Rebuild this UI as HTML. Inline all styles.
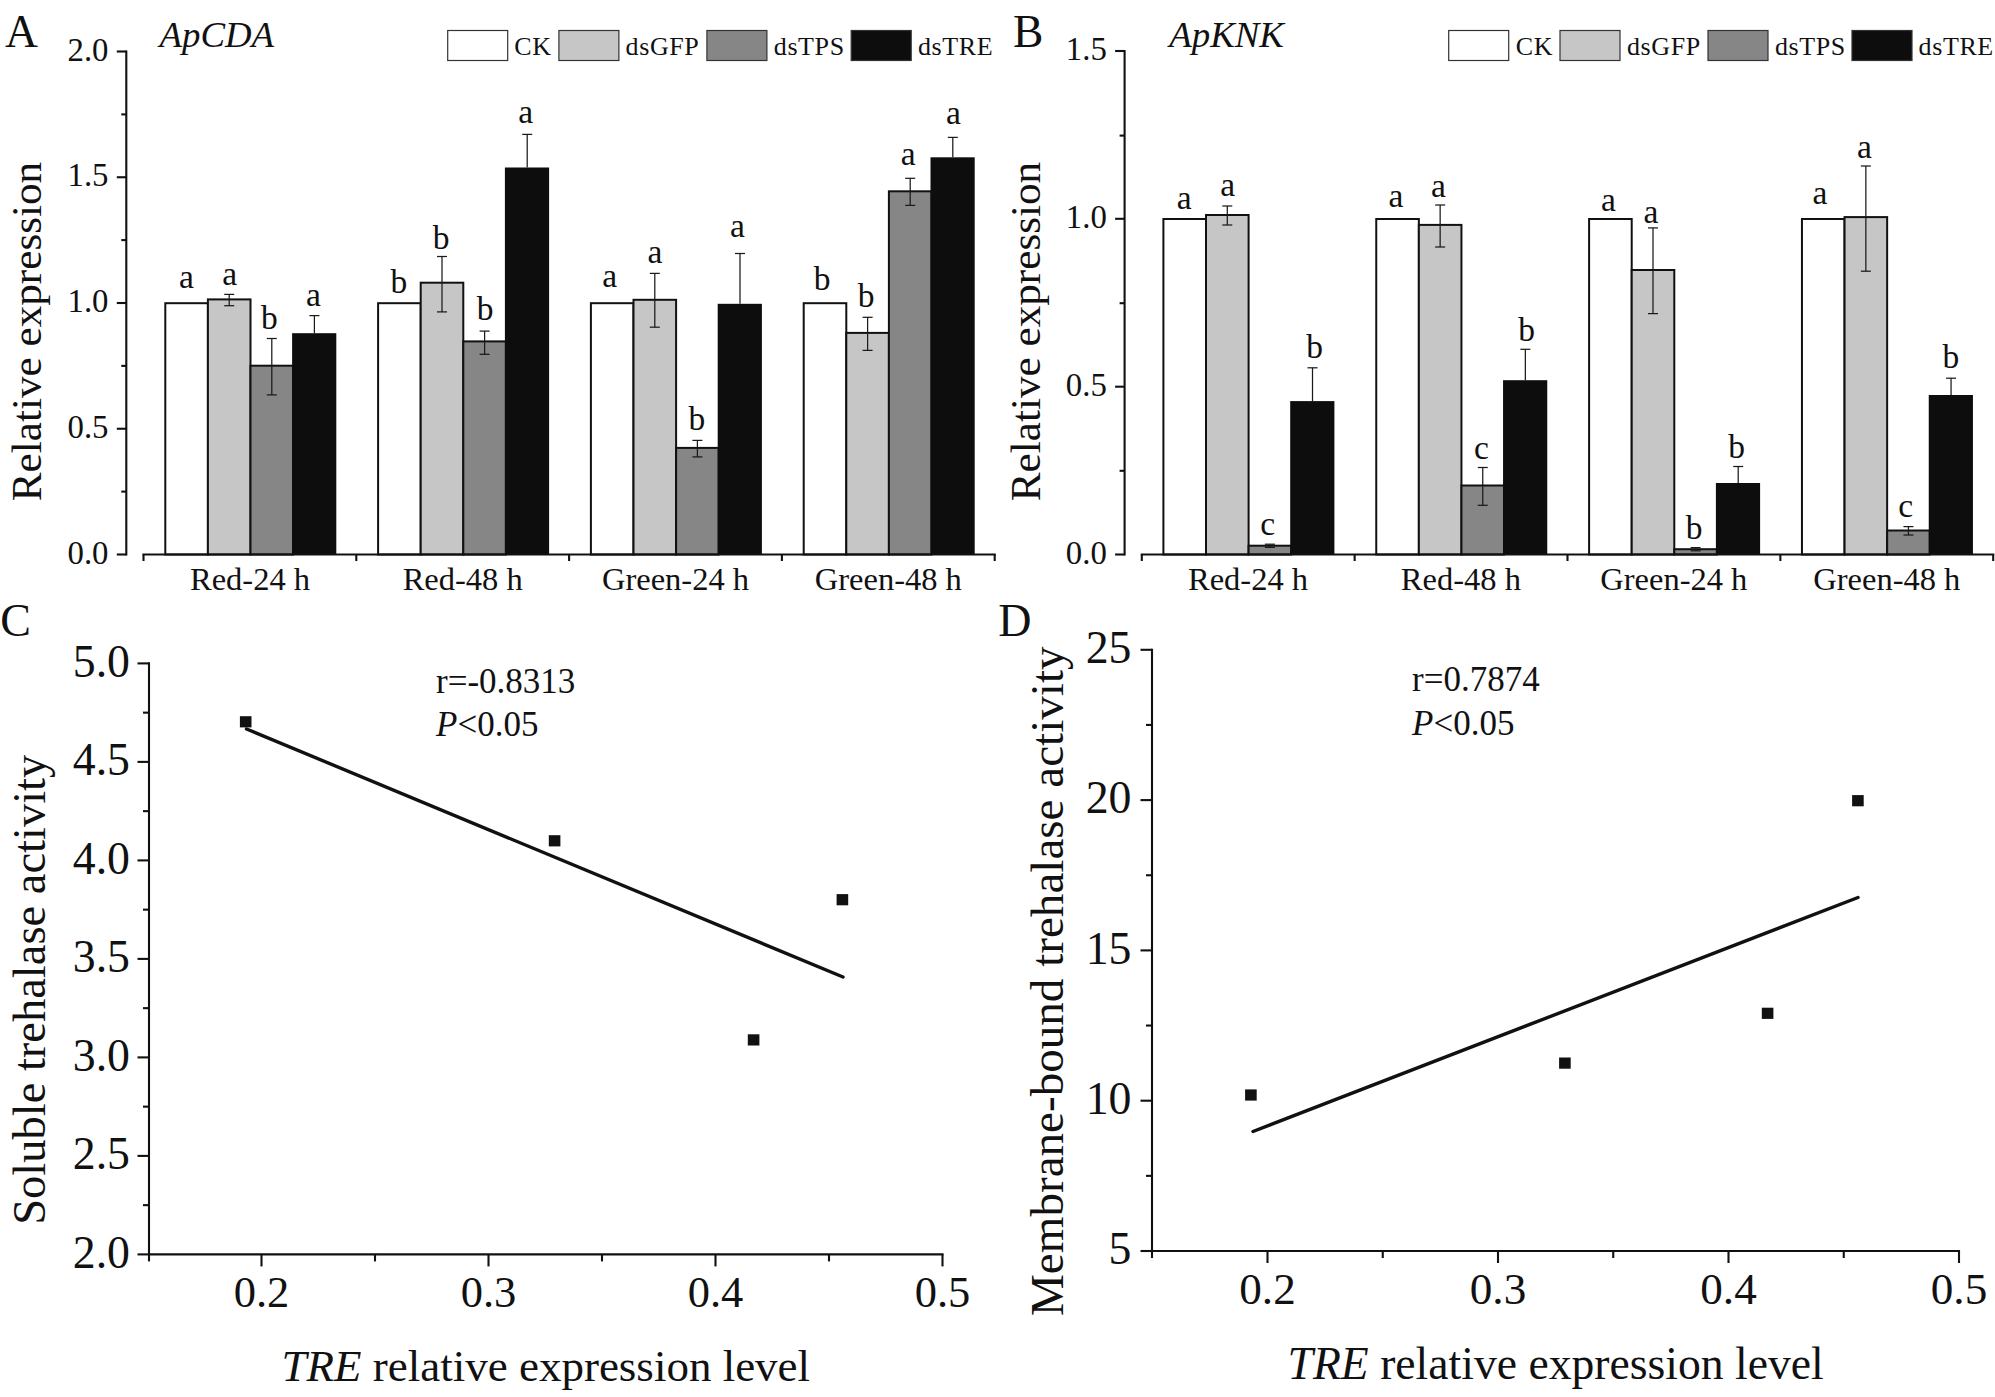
<!DOCTYPE html>
<html lang="en">
<head>
<meta charset="utf-8">
<title>Figure</title>
<style>
html,body{margin:0;padding:0;background:#fff;}
body{width:1995px;height:1397px;overflow:hidden;}
svg{display:block;}
svg text{font-family:"Liberation Serif", "Times New Roman", serif;fill:#111;}
</style>
</head>
<body>
<svg width="1995" height="1397" viewBox="0 0 1995 1397">
<rect x="0" y="0" width="1995" height="1397" fill="#ffffff"/>
<line x1="126.30" y1="50.45" x2="126.30" y2="555.55" stroke="#111" stroke-width="2.1" stroke-linecap="butt"/>
<line x1="116.80" y1="51.50" x2="126.30" y2="51.50" stroke="#111" stroke-width="2.1" stroke-linecap="butt"/>
<line x1="116.80" y1="177.25" x2="126.30" y2="177.25" stroke="#111" stroke-width="2.1" stroke-linecap="butt"/>
<line x1="116.80" y1="303.00" x2="126.30" y2="303.00" stroke="#111" stroke-width="2.1" stroke-linecap="butt"/>
<line x1="116.80" y1="428.75" x2="126.30" y2="428.75" stroke="#111" stroke-width="2.1" stroke-linecap="butt"/>
<line x1="116.80" y1="554.50" x2="126.30" y2="554.50" stroke="#111" stroke-width="2.1" stroke-linecap="butt"/>
<line x1="121.30" y1="114.40" x2="126.30" y2="114.40" stroke="#111" stroke-width="2.1" stroke-linecap="butt"/>
<line x1="121.30" y1="240.10" x2="126.30" y2="240.10" stroke="#111" stroke-width="2.1" stroke-linecap="butt"/>
<line x1="121.30" y1="365.90" x2="126.30" y2="365.90" stroke="#111" stroke-width="2.1" stroke-linecap="butt"/>
<line x1="121.30" y1="491.60" x2="126.30" y2="491.60" stroke="#111" stroke-width="2.1" stroke-linecap="butt"/>
<text x="108.5" y="60.7" text-anchor="end" style="font-size:32.8px;">2.0</text>
<text x="108.5" y="186.45" text-anchor="end" style="font-size:32.8px;">1.5</text>
<text x="108.5" y="312.2" text-anchor="end" style="font-size:32.8px;">1.0</text>
<text x="108.5" y="437.95" text-anchor="end" style="font-size:32.8px;">0.5</text>
<text x="108.5" y="563.7" text-anchor="end" style="font-size:32.8px;">0.0</text>
<rect x="165.30" y="303.20" width="42.6" height="251.30" fill="#ffffff" stroke="#111" stroke-width="2"/>
<rect x="207.90" y="299.40" width="42.6" height="255.10" fill="#c6c6c6" stroke="#111" stroke-width="2"/>
<rect x="250.50" y="365.70" width="42.6" height="188.80" fill="#868686" stroke="#111" stroke-width="2"/>
<rect x="292.10" y="333.20" width="44.20" height="221.30" fill="#0d0d0d"/>
<line x1="229.20" y1="294.40" x2="229.20" y2="305.70" stroke="#1a1a1a" stroke-width="1.25" stroke-linecap="butt"/>
<line x1="224.20" y1="294.40" x2="234.20" y2="294.40" stroke="#1a1a1a" stroke-width="1.25" stroke-linecap="butt"/>
<line x1="224.20" y1="305.70" x2="234.20" y2="305.70" stroke="#1a1a1a" stroke-width="1.25" stroke-linecap="butt"/>
<line x1="271.80" y1="338.50" x2="271.80" y2="394.90" stroke="#1a1a1a" stroke-width="1.25" stroke-linecap="butt"/>
<line x1="266.80" y1="338.50" x2="276.80" y2="338.50" stroke="#1a1a1a" stroke-width="1.25" stroke-linecap="butt"/>
<line x1="266.80" y1="394.90" x2="276.80" y2="394.90" stroke="#1a1a1a" stroke-width="1.25" stroke-linecap="butt"/>
<line x1="314.40" y1="315.60" x2="314.40" y2="333.20" stroke="#1a1a1a" stroke-width="1.25" stroke-linecap="butt"/>
<line x1="309.40" y1="315.60" x2="319.40" y2="315.60" stroke="#1a1a1a" stroke-width="1.25" stroke-linecap="butt"/>
<text x="186.5" y="287.8" text-anchor="middle" style="font-size:33.5px;">a</text>
<text x="229.7" y="285.4" text-anchor="middle" style="font-size:33.5px;">a</text>
<text x="269.4" y="329.4" text-anchor="middle" style="font-size:33.5px;">b</text>
<text x="313.5" y="306.09999999999997" text-anchor="middle" style="font-size:33.5px;">a</text>
<rect x="378.10" y="303.20" width="42.6" height="251.30" fill="#ffffff" stroke="#111" stroke-width="2"/>
<rect x="420.70" y="282.70" width="42.6" height="271.80" fill="#c6c6c6" stroke="#111" stroke-width="2"/>
<rect x="463.30" y="341.40" width="42.6" height="213.10" fill="#868686" stroke="#111" stroke-width="2"/>
<rect x="504.90" y="167.50" width="44.20" height="387.00" fill="#0d0d0d"/>
<line x1="442.00" y1="256.50" x2="442.00" y2="311.90" stroke="#1a1a1a" stroke-width="1.25" stroke-linecap="butt"/>
<line x1="437.00" y1="256.50" x2="447.00" y2="256.50" stroke="#1a1a1a" stroke-width="1.25" stroke-linecap="butt"/>
<line x1="437.00" y1="311.90" x2="447.00" y2="311.90" stroke="#1a1a1a" stroke-width="1.25" stroke-linecap="butt"/>
<line x1="484.60" y1="331.10" x2="484.60" y2="354.30" stroke="#1a1a1a" stroke-width="1.25" stroke-linecap="butt"/>
<line x1="479.60" y1="331.10" x2="489.60" y2="331.10" stroke="#1a1a1a" stroke-width="1.25" stroke-linecap="butt"/>
<line x1="479.60" y1="354.30" x2="489.60" y2="354.30" stroke="#1a1a1a" stroke-width="1.25" stroke-linecap="butt"/>
<line x1="527.20" y1="134.40" x2="527.20" y2="167.50" stroke="#1a1a1a" stroke-width="1.25" stroke-linecap="butt"/>
<line x1="522.20" y1="134.40" x2="532.20" y2="134.40" stroke="#1a1a1a" stroke-width="1.25" stroke-linecap="butt"/>
<text x="398.9" y="292.59999999999997" text-anchor="middle" style="font-size:33.5px;">b</text>
<text x="441.2" y="248.79999999999998" text-anchor="middle" style="font-size:33.5px;">b</text>
<text x="485.1" y="319.5" text-anchor="middle" style="font-size:33.5px;">b</text>
<text x="525.7" y="122.5" text-anchor="middle" style="font-size:33.5px;">a</text>
<rect x="590.90" y="303.20" width="42.6" height="251.30" fill="#ffffff" stroke="#111" stroke-width="2"/>
<rect x="633.50" y="299.80" width="42.6" height="254.70" fill="#c6c6c6" stroke="#111" stroke-width="2"/>
<rect x="676.10" y="447.90" width="42.6" height="106.60" fill="#868686" stroke="#111" stroke-width="2"/>
<rect x="717.70" y="303.80" width="44.20" height="250.70" fill="#0d0d0d"/>
<line x1="654.80" y1="273.40" x2="654.80" y2="327.20" stroke="#1a1a1a" stroke-width="1.25" stroke-linecap="butt"/>
<line x1="649.80" y1="273.40" x2="659.80" y2="273.40" stroke="#1a1a1a" stroke-width="1.25" stroke-linecap="butt"/>
<line x1="649.80" y1="327.20" x2="659.80" y2="327.20" stroke="#1a1a1a" stroke-width="1.25" stroke-linecap="butt"/>
<line x1="697.40" y1="440.40" x2="697.40" y2="456.90" stroke="#1a1a1a" stroke-width="1.25" stroke-linecap="butt"/>
<line x1="692.40" y1="440.40" x2="702.40" y2="440.40" stroke="#1a1a1a" stroke-width="1.25" stroke-linecap="butt"/>
<line x1="692.40" y1="456.90" x2="702.40" y2="456.90" stroke="#1a1a1a" stroke-width="1.25" stroke-linecap="butt"/>
<line x1="740.00" y1="253.50" x2="740.00" y2="303.80" stroke="#1a1a1a" stroke-width="1.25" stroke-linecap="butt"/>
<line x1="735.00" y1="253.50" x2="745.00" y2="253.50" stroke="#1a1a1a" stroke-width="1.25" stroke-linecap="butt"/>
<text x="609.6" y="287.3" text-anchor="middle" style="font-size:33.5px;">a</text>
<text x="655" y="263.0" text-anchor="middle" style="font-size:33.5px;">a</text>
<text x="696.8" y="429.7" text-anchor="middle" style="font-size:33.5px;">b</text>
<text x="737.4" y="237.39999999999998" text-anchor="middle" style="font-size:33.5px;">a</text>
<rect x="803.70" y="303.20" width="42.6" height="251.30" fill="#ffffff" stroke="#111" stroke-width="2"/>
<rect x="846.30" y="332.90" width="42.6" height="221.60" fill="#c6c6c6" stroke="#111" stroke-width="2"/>
<rect x="888.90" y="191.30" width="42.6" height="363.20" fill="#868686" stroke="#111" stroke-width="2"/>
<rect x="930.50" y="157.30" width="44.20" height="397.20" fill="#0d0d0d"/>
<line x1="867.60" y1="317.30" x2="867.60" y2="350.40" stroke="#1a1a1a" stroke-width="1.25" stroke-linecap="butt"/>
<line x1="862.60" y1="317.30" x2="872.60" y2="317.30" stroke="#1a1a1a" stroke-width="1.25" stroke-linecap="butt"/>
<line x1="862.60" y1="350.40" x2="872.60" y2="350.40" stroke="#1a1a1a" stroke-width="1.25" stroke-linecap="butt"/>
<line x1="910.20" y1="178.30" x2="910.20" y2="205.40" stroke="#1a1a1a" stroke-width="1.25" stroke-linecap="butt"/>
<line x1="905.20" y1="178.30" x2="915.20" y2="178.30" stroke="#1a1a1a" stroke-width="1.25" stroke-linecap="butt"/>
<line x1="905.20" y1="205.40" x2="915.20" y2="205.40" stroke="#1a1a1a" stroke-width="1.25" stroke-linecap="butt"/>
<line x1="952.80" y1="137.40" x2="952.80" y2="157.30" stroke="#1a1a1a" stroke-width="1.25" stroke-linecap="butt"/>
<line x1="947.80" y1="137.40" x2="957.80" y2="137.40" stroke="#1a1a1a" stroke-width="1.25" stroke-linecap="butt"/>
<text x="822" y="290.0" text-anchor="middle" style="font-size:33.5px;">b</text>
<text x="866.2" y="306.9" text-anchor="middle" style="font-size:33.5px;">b</text>
<text x="908.3" y="164.6" text-anchor="middle" style="font-size:33.5px;">a</text>
<text x="953.4" y="124.0" text-anchor="middle" style="font-size:33.5px;">a</text>
<line x1="142.45" y1="554.50" x2="995.75" y2="554.50" stroke="#111" stroke-width="2.1" stroke-linecap="butt"/>
<line x1="143.50" y1="554.50" x2="143.50" y2="561.00" stroke="#111" stroke-width="2.1" stroke-linecap="butt"/>
<line x1="356.30" y1="554.50" x2="356.30" y2="561.00" stroke="#111" stroke-width="2.1" stroke-linecap="butt"/>
<line x1="569.10" y1="554.50" x2="569.10" y2="561.00" stroke="#111" stroke-width="2.1" stroke-linecap="butt"/>
<line x1="781.90" y1="554.50" x2="781.90" y2="561.00" stroke="#111" stroke-width="2.1" stroke-linecap="butt"/>
<line x1="994.70" y1="554.50" x2="994.70" y2="561.00" stroke="#111" stroke-width="2.1" stroke-linecap="butt"/>
<text x="250" y="589.7" text-anchor="middle" style="font-size:32.5px;">Red-24 h</text>
<text x="462.7" y="589.7" text-anchor="middle" style="font-size:32.5px;">Red-48 h</text>
<text x="675.5" y="589.7" text-anchor="middle" style="font-size:32.5px;">Green-24 h</text>
<text x="888.3" y="589.7" text-anchor="middle" style="font-size:32.5px;">Green-48 h</text>
<rect x="447.7" y="30.5" width="60" height="30" fill="#ffffff" stroke="#333" stroke-width="1.2"/>
<text x="514.3" y="54.7" text-anchor="start" style="font-size:26px;" letter-spacing="0.6">CK</text>
<rect x="558.9" y="30.5" width="60" height="30" fill="#c6c6c6" stroke="#333" stroke-width="1.2"/>
<text x="625.6" y="54.7" text-anchor="start" style="font-size:26px;" letter-spacing="0.6">dsGFP</text>
<rect x="706.9" y="30.5" width="60" height="30" fill="#868686" stroke="#333" stroke-width="1.2"/>
<text x="773.8" y="54.7" text-anchor="start" style="font-size:26px;" letter-spacing="0.6">dsTPS</text>
<rect x="851.2" y="30.5" width="60" height="30" fill="#0d0d0d" stroke="#333" stroke-width="1.2"/>
<text x="917.9" y="54.7" text-anchor="start" style="font-size:26px;" letter-spacing="0.6">dsTRE</text>
<text x="159.5" y="46.9" text-anchor="start" style="font-size:36.8px;font-style:italic;">ApCDA</text>
<text x="5.0" y="46.9" text-anchor="start" style="font-size:45.5px;">A</text>
<text x="41.4" y="331.5" text-anchor="middle" style="font-size:43.2px;" transform="rotate(-90 41.4 331.5)">Relative expression</text>
<line x1="1124.60" y1="49.95" x2="1124.60" y2="555.55" stroke="#111" stroke-width="2.1" stroke-linecap="butt"/>
<line x1="1115.10" y1="51.00" x2="1124.60" y2="51.00" stroke="#111" stroke-width="2.1" stroke-linecap="butt"/>
<line x1="1115.10" y1="218.80" x2="1124.60" y2="218.80" stroke="#111" stroke-width="2.1" stroke-linecap="butt"/>
<line x1="1115.10" y1="386.70" x2="1124.60" y2="386.70" stroke="#111" stroke-width="2.1" stroke-linecap="butt"/>
<line x1="1115.10" y1="554.50" x2="1124.60" y2="554.50" stroke="#111" stroke-width="2.1" stroke-linecap="butt"/>
<line x1="1119.60" y1="135.60" x2="1124.60" y2="135.60" stroke="#111" stroke-width="2.1" stroke-linecap="butt"/>
<line x1="1119.60" y1="303.20" x2="1124.60" y2="303.20" stroke="#111" stroke-width="2.1" stroke-linecap="butt"/>
<line x1="1119.60" y1="470.80" x2="1124.60" y2="470.80" stroke="#111" stroke-width="2.1" stroke-linecap="butt"/>
<text x="1106.8" y="60.2" text-anchor="end" style="font-size:32.8px;">1.5</text>
<text x="1106.8" y="228.0" text-anchor="end" style="font-size:32.8px;">1.0</text>
<text x="1106.8" y="395.9" text-anchor="end" style="font-size:32.8px;">0.5</text>
<text x="1106.8" y="563.7" text-anchor="end" style="font-size:32.8px;">0.0</text>
<rect x="1163.40" y="219.00" width="42.6" height="335.50" fill="#ffffff" stroke="#111" stroke-width="2"/>
<rect x="1206.00" y="215.00" width="42.6" height="339.50" fill="#c6c6c6" stroke="#111" stroke-width="2"/>
<rect x="1248.60" y="545.70" width="42.6" height="8.80" fill="#868686" stroke="#111" stroke-width="2"/>
<rect x="1290.20" y="401.10" width="44.20" height="153.40" fill="#0d0d0d"/>
<line x1="1227.30" y1="206.00" x2="1227.30" y2="225.00" stroke="#1a1a1a" stroke-width="1.25" stroke-linecap="butt"/>
<line x1="1222.30" y1="206.00" x2="1232.30" y2="206.00" stroke="#1a1a1a" stroke-width="1.25" stroke-linecap="butt"/>
<line x1="1222.30" y1="225.00" x2="1232.30" y2="225.00" stroke="#1a1a1a" stroke-width="1.25" stroke-linecap="butt"/>
<line x1="1269.90" y1="544.20" x2="1269.90" y2="547.40" stroke="#1a1a1a" stroke-width="1.25" stroke-linecap="butt"/>
<line x1="1264.90" y1="544.20" x2="1274.90" y2="544.20" stroke="#1a1a1a" stroke-width="1.25" stroke-linecap="butt"/>
<line x1="1264.90" y1="547.40" x2="1274.90" y2="547.40" stroke="#1a1a1a" stroke-width="1.25" stroke-linecap="butt"/>
<line x1="1312.50" y1="367.80" x2="1312.50" y2="401.10" stroke="#1a1a1a" stroke-width="1.25" stroke-linecap="butt"/>
<line x1="1307.50" y1="367.80" x2="1317.50" y2="367.80" stroke="#1a1a1a" stroke-width="1.25" stroke-linecap="butt"/>
<text x="1184.2" y="209.2" text-anchor="middle" style="font-size:33.5px;">a</text>
<text x="1227.6" y="196.2" text-anchor="middle" style="font-size:33.5px;">a</text>
<text x="1267.7" y="535.2" text-anchor="middle" style="font-size:33.5px;">c</text>
<text x="1314.5" y="358.0" text-anchor="middle" style="font-size:33.5px;">b</text>
<rect x="1376.25" y="219.00" width="42.6" height="335.50" fill="#ffffff" stroke="#111" stroke-width="2"/>
<rect x="1418.85" y="224.90" width="42.6" height="329.60" fill="#c6c6c6" stroke="#111" stroke-width="2"/>
<rect x="1461.45" y="485.50" width="42.6" height="69.00" fill="#868686" stroke="#111" stroke-width="2"/>
<rect x="1503.05" y="380.20" width="44.20" height="174.30" fill="#0d0d0d"/>
<line x1="1440.15" y1="205.00" x2="1440.15" y2="247.00" stroke="#1a1a1a" stroke-width="1.25" stroke-linecap="butt"/>
<line x1="1435.15" y1="205.00" x2="1445.15" y2="205.00" stroke="#1a1a1a" stroke-width="1.25" stroke-linecap="butt"/>
<line x1="1435.15" y1="247.00" x2="1445.15" y2="247.00" stroke="#1a1a1a" stroke-width="1.25" stroke-linecap="butt"/>
<line x1="1482.75" y1="467.50" x2="1482.75" y2="505.30" stroke="#1a1a1a" stroke-width="1.25" stroke-linecap="butt"/>
<line x1="1477.75" y1="467.50" x2="1487.75" y2="467.50" stroke="#1a1a1a" stroke-width="1.25" stroke-linecap="butt"/>
<line x1="1477.75" y1="505.30" x2="1487.75" y2="505.30" stroke="#1a1a1a" stroke-width="1.25" stroke-linecap="butt"/>
<line x1="1525.35" y1="349.30" x2="1525.35" y2="380.20" stroke="#1a1a1a" stroke-width="1.25" stroke-linecap="butt"/>
<line x1="1520.35" y1="349.30" x2="1530.35" y2="349.30" stroke="#1a1a1a" stroke-width="1.25" stroke-linecap="butt"/>
<text x="1396" y="206.7" text-anchor="middle" style="font-size:33.5px;">a</text>
<text x="1438.5" y="196.7" text-anchor="middle" style="font-size:33.5px;">a</text>
<text x="1481.5" y="459.4" text-anchor="middle" style="font-size:33.5px;">c</text>
<text x="1526.6" y="341.09999999999997" text-anchor="middle" style="font-size:33.5px;">b</text>
<rect x="1589.10" y="219.00" width="42.6" height="335.50" fill="#ffffff" stroke="#111" stroke-width="2"/>
<rect x="1631.70" y="270.00" width="42.6" height="284.50" fill="#c6c6c6" stroke="#111" stroke-width="2"/>
<rect x="1674.30" y="549.20" width="42.6" height="5.30" fill="#868686" stroke="#111" stroke-width="2"/>
<rect x="1715.90" y="483.00" width="44.20" height="71.50" fill="#0d0d0d"/>
<line x1="1653.00" y1="227.90" x2="1653.00" y2="313.60" stroke="#1a1a1a" stroke-width="1.25" stroke-linecap="butt"/>
<line x1="1648.00" y1="227.90" x2="1658.00" y2="227.90" stroke="#1a1a1a" stroke-width="1.25" stroke-linecap="butt"/>
<line x1="1648.00" y1="313.60" x2="1658.00" y2="313.60" stroke="#1a1a1a" stroke-width="1.25" stroke-linecap="butt"/>
<line x1="1695.60" y1="547.60" x2="1695.60" y2="550.80" stroke="#1a1a1a" stroke-width="1.25" stroke-linecap="butt"/>
<line x1="1690.60" y1="547.60" x2="1700.60" y2="547.60" stroke="#1a1a1a" stroke-width="1.25" stroke-linecap="butt"/>
<line x1="1690.60" y1="550.80" x2="1700.60" y2="550.80" stroke="#1a1a1a" stroke-width="1.25" stroke-linecap="butt"/>
<line x1="1738.20" y1="466.50" x2="1738.20" y2="483.00" stroke="#1a1a1a" stroke-width="1.25" stroke-linecap="butt"/>
<line x1="1733.20" y1="466.50" x2="1743.20" y2="466.50" stroke="#1a1a1a" stroke-width="1.25" stroke-linecap="butt"/>
<text x="1608.4" y="211.2" text-anchor="middle" style="font-size:33.5px;">a</text>
<text x="1651" y="223.2" text-anchor="middle" style="font-size:33.5px;">a</text>
<text x="1694" y="538.7" text-anchor="middle" style="font-size:33.5px;">b</text>
<text x="1736.7" y="458.2" text-anchor="middle" style="font-size:33.5px;">b</text>
<rect x="1801.95" y="219.00" width="42.6" height="335.50" fill="#ffffff" stroke="#111" stroke-width="2"/>
<rect x="1844.55" y="217.10" width="42.6" height="337.40" fill="#c6c6c6" stroke="#111" stroke-width="2"/>
<rect x="1887.15" y="530.50" width="42.6" height="24.00" fill="#868686" stroke="#111" stroke-width="2"/>
<rect x="1928.75" y="395.00" width="44.20" height="159.50" fill="#0d0d0d"/>
<line x1="1865.85" y1="166.00" x2="1865.85" y2="271.20" stroke="#1a1a1a" stroke-width="1.25" stroke-linecap="butt"/>
<line x1="1860.85" y1="166.00" x2="1870.85" y2="166.00" stroke="#1a1a1a" stroke-width="1.25" stroke-linecap="butt"/>
<line x1="1860.85" y1="271.20" x2="1870.85" y2="271.20" stroke="#1a1a1a" stroke-width="1.25" stroke-linecap="butt"/>
<line x1="1908.45" y1="526.60" x2="1908.45" y2="535.00" stroke="#1a1a1a" stroke-width="1.25" stroke-linecap="butt"/>
<line x1="1903.45" y1="526.60" x2="1913.45" y2="526.60" stroke="#1a1a1a" stroke-width="1.25" stroke-linecap="butt"/>
<line x1="1903.45" y1="535.00" x2="1913.45" y2="535.00" stroke="#1a1a1a" stroke-width="1.25" stroke-linecap="butt"/>
<line x1="1951.05" y1="378.20" x2="1951.05" y2="395.00" stroke="#1a1a1a" stroke-width="1.25" stroke-linecap="butt"/>
<line x1="1946.05" y1="378.20" x2="1956.05" y2="378.20" stroke="#1a1a1a" stroke-width="1.25" stroke-linecap="butt"/>
<text x="1820" y="203.7" text-anchor="middle" style="font-size:33.5px;">a</text>
<text x="1864.5" y="157.7" text-anchor="middle" style="font-size:33.5px;">a</text>
<text x="1905.7" y="516.7" text-anchor="middle" style="font-size:33.5px;">c</text>
<text x="1950.8" y="368.0" text-anchor="middle" style="font-size:33.5px;">b</text>
<line x1="1140.75" y1="554.50" x2="1994.25" y2="554.50" stroke="#111" stroke-width="2.1" stroke-linecap="butt"/>
<line x1="1141.80" y1="554.50" x2="1141.80" y2="561.00" stroke="#111" stroke-width="2.1" stroke-linecap="butt"/>
<line x1="1354.65" y1="554.50" x2="1354.65" y2="561.00" stroke="#111" stroke-width="2.1" stroke-linecap="butt"/>
<line x1="1567.50" y1="554.50" x2="1567.50" y2="561.00" stroke="#111" stroke-width="2.1" stroke-linecap="butt"/>
<line x1="1780.35" y1="554.50" x2="1780.35" y2="561.00" stroke="#111" stroke-width="2.1" stroke-linecap="butt"/>
<line x1="1993.20" y1="554.50" x2="1993.20" y2="561.00" stroke="#111" stroke-width="2.1" stroke-linecap="butt"/>
<text x="1248" y="589.7" text-anchor="middle" style="font-size:32.5px;">Red-24 h</text>
<text x="1460.9" y="589.7" text-anchor="middle" style="font-size:32.5px;">Red-48 h</text>
<text x="1673.8" y="589.7" text-anchor="middle" style="font-size:32.5px;">Green-24 h</text>
<text x="1886.8" y="589.7" text-anchor="middle" style="font-size:32.5px;">Green-48 h</text>
<rect x="1448.7" y="30.5" width="60" height="30" fill="#ffffff" stroke="#333" stroke-width="1.2"/>
<text x="1515.8" y="54.7" text-anchor="start" style="font-size:26px;" letter-spacing="0.6">CK</text>
<rect x="1560" y="30.5" width="60" height="30" fill="#c6c6c6" stroke="#333" stroke-width="1.2"/>
<text x="1627" y="54.7" text-anchor="start" style="font-size:26px;" letter-spacing="0.6">dsGFP</text>
<rect x="1708" y="30.5" width="60" height="30" fill="#868686" stroke="#333" stroke-width="1.2"/>
<text x="1775" y="54.7" text-anchor="start" style="font-size:26px;" letter-spacing="0.6">dsTPS</text>
<rect x="1852" y="30.5" width="60" height="30" fill="#0d0d0d" stroke="#333" stroke-width="1.2"/>
<text x="1918.6" y="54.7" text-anchor="start" style="font-size:26px;" letter-spacing="0.6">dsTRE</text>
<text x="1169.3" y="46.9" text-anchor="start" style="font-size:36.8px;font-style:italic;">ApKNK</text>
<text x="1013.0" y="46.9" text-anchor="start" style="font-size:45.5px;">B</text>
<text x="1040.1" y="331.5" text-anchor="middle" style="font-size:43.2px;" transform="rotate(-90 1040.1 331.5)">Relative expression</text>
<line x1="149.00" y1="662.35" x2="149.00" y2="1255.45" stroke="#111" stroke-width="2.1" stroke-linecap="butt"/>
<line x1="137.50" y1="663.40" x2="149.00" y2="663.40" stroke="#111" stroke-width="2.1" stroke-linecap="butt"/>
<line x1="137.50" y1="761.90" x2="149.00" y2="761.90" stroke="#111" stroke-width="2.1" stroke-linecap="butt"/>
<line x1="137.50" y1="860.40" x2="149.00" y2="860.40" stroke="#111" stroke-width="2.1" stroke-linecap="butt"/>
<line x1="137.50" y1="958.90" x2="149.00" y2="958.90" stroke="#111" stroke-width="2.1" stroke-linecap="butt"/>
<line x1="137.50" y1="1057.40" x2="149.00" y2="1057.40" stroke="#111" stroke-width="2.1" stroke-linecap="butt"/>
<line x1="137.50" y1="1155.90" x2="149.00" y2="1155.90" stroke="#111" stroke-width="2.1" stroke-linecap="butt"/>
<line x1="137.50" y1="1254.40" x2="149.00" y2="1254.40" stroke="#111" stroke-width="2.1" stroke-linecap="butt"/>
<line x1="143.00" y1="712.65" x2="149.00" y2="712.65" stroke="#111" stroke-width="2.1" stroke-linecap="butt"/>
<line x1="143.00" y1="811.15" x2="149.00" y2="811.15" stroke="#111" stroke-width="2.1" stroke-linecap="butt"/>
<line x1="143.00" y1="909.65" x2="149.00" y2="909.65" stroke="#111" stroke-width="2.1" stroke-linecap="butt"/>
<line x1="143.00" y1="1008.15" x2="149.00" y2="1008.15" stroke="#111" stroke-width="2.1" stroke-linecap="butt"/>
<line x1="143.00" y1="1106.65" x2="149.00" y2="1106.65" stroke="#111" stroke-width="2.1" stroke-linecap="butt"/>
<line x1="143.00" y1="1205.15" x2="149.00" y2="1205.15" stroke="#111" stroke-width="2.1" stroke-linecap="butt"/>
<text x="130.0" y="676.5000000000001" text-anchor="end" style="font-size:45.8px;">5.0</text>
<text x="130.0" y="775.0000000000001" text-anchor="end" style="font-size:45.8px;">4.5</text>
<text x="130.0" y="873.5000000000001" text-anchor="end" style="font-size:45.8px;">4.0</text>
<text x="130.0" y="972.0000000000001" text-anchor="end" style="font-size:45.8px;">3.5</text>
<text x="130.0" y="1070.5" text-anchor="end" style="font-size:45.8px;">3.0</text>
<text x="130.0" y="1169.0" text-anchor="end" style="font-size:45.8px;">2.5</text>
<text x="130.0" y="1267.5" text-anchor="end" style="font-size:45.8px;">2.0</text>
<line x1="147.95" y1="1254.40" x2="943.55" y2="1254.40" stroke="#111" stroke-width="2.1" stroke-linecap="butt"/>
<line x1="149.00" y1="1254.40" x2="149.00" y2="1261.40" stroke="#111" stroke-width="2.1" stroke-linecap="butt"/>
<line x1="261.50" y1="1254.40" x2="261.50" y2="1266.40" stroke="#111" stroke-width="2.1" stroke-linecap="butt"/>
<text x="261.5" y="1307.0" text-anchor="middle" style="font-size:44.5px;">0.2</text>
<line x1="375.00" y1="1254.40" x2="375.00" y2="1261.40" stroke="#111" stroke-width="2.1" stroke-linecap="butt"/>
<line x1="488.50" y1="1254.40" x2="488.50" y2="1266.40" stroke="#111" stroke-width="2.1" stroke-linecap="butt"/>
<text x="488.5" y="1307.0" text-anchor="middle" style="font-size:44.5px;">0.3</text>
<line x1="602.00" y1="1254.40" x2="602.00" y2="1261.40" stroke="#111" stroke-width="2.1" stroke-linecap="butt"/>
<line x1="715.50" y1="1254.40" x2="715.50" y2="1266.40" stroke="#111" stroke-width="2.1" stroke-linecap="butt"/>
<text x="715.5" y="1307.0" text-anchor="middle" style="font-size:44.5px;">0.4</text>
<line x1="829.00" y1="1254.40" x2="829.00" y2="1261.40" stroke="#111" stroke-width="2.1" stroke-linecap="butt"/>
<line x1="942.50" y1="1254.40" x2="942.50" y2="1266.40" stroke="#111" stroke-width="2.1" stroke-linecap="butt"/>
<text x="942.5" y="1307.0" text-anchor="middle" style="font-size:44.5px;">0.5</text>
<rect x="239.90" y="716.20" width="11.6" height="11.2" fill="#111"/>
<rect x="548.80" y="835.20" width="11.6" height="11.2" fill="#111"/>
<rect x="836.60" y="894.10" width="11.6" height="11.2" fill="#111"/>
<rect x="747.80" y="1034.30" width="11.6" height="11.2" fill="#111"/>
<line x1="246.50" y1="729.00" x2="843.00" y2="977.00" stroke="#111" stroke-width="3.4" stroke-linecap="round"/>
<text x="436.0" y="693.0" text-anchor="start" style="font-size:35px;">r=-0.8313</text>
<text x="436.0" y="736.0" style="font-size:35px"><tspan style="font-style:italic">P</tspan>&lt;0.05</text>
<text x="281.5" y="1381.0" style="font-size:45px"><tspan style="font-style:italic">TRE</tspan> relative expression level</text>
<text x="44.8" y="1224.8" text-anchor="start" style="font-size:46.5px;" transform="rotate(-90 44.8 1224.8)">Soluble trehalase activity</text>
<text x="0.2" y="635.9" text-anchor="start" style="font-size:46px;">C</text>
<line x1="1152.00" y1="648.75" x2="1152.00" y2="1252.05" stroke="#111" stroke-width="2.1" stroke-linecap="butt"/>
<line x1="1140.50" y1="649.80" x2="1152.00" y2="649.80" stroke="#111" stroke-width="2.1" stroke-linecap="butt"/>
<line x1="1140.50" y1="800.10" x2="1152.00" y2="800.10" stroke="#111" stroke-width="2.1" stroke-linecap="butt"/>
<line x1="1140.50" y1="950.40" x2="1152.00" y2="950.40" stroke="#111" stroke-width="2.1" stroke-linecap="butt"/>
<line x1="1140.50" y1="1100.70" x2="1152.00" y2="1100.70" stroke="#111" stroke-width="2.1" stroke-linecap="butt"/>
<line x1="1140.50" y1="1251.00" x2="1152.00" y2="1251.00" stroke="#111" stroke-width="2.1" stroke-linecap="butt"/>
<line x1="1146.00" y1="724.95" x2="1152.00" y2="724.95" stroke="#111" stroke-width="2.1" stroke-linecap="butt"/>
<line x1="1146.00" y1="875.25" x2="1152.00" y2="875.25" stroke="#111" stroke-width="2.1" stroke-linecap="butt"/>
<line x1="1146.00" y1="1025.55" x2="1152.00" y2="1025.55" stroke="#111" stroke-width="2.1" stroke-linecap="butt"/>
<line x1="1146.00" y1="1175.85" x2="1152.00" y2="1175.85" stroke="#111" stroke-width="2.1" stroke-linecap="butt"/>
<text x="1131.5" y="662.9000000000001" text-anchor="end" style="font-size:45.8px;">25</text>
<text x="1131.5" y="813.2" text-anchor="end" style="font-size:45.8px;">20</text>
<text x="1131.5" y="963.5000000000001" text-anchor="end" style="font-size:45.8px;">15</text>
<text x="1131.5" y="1113.8" text-anchor="end" style="font-size:45.8px;">10</text>
<text x="1131.5" y="1264.1" text-anchor="end" style="font-size:45.8px;">5</text>
<line x1="1150.95" y1="1251.00" x2="1960.05" y2="1251.00" stroke="#111" stroke-width="2.1" stroke-linecap="butt"/>
<line x1="1152.00" y1="1251.00" x2="1152.00" y2="1258.00" stroke="#111" stroke-width="2.1" stroke-linecap="butt"/>
<line x1="1267.50" y1="1251.00" x2="1267.50" y2="1263.00" stroke="#111" stroke-width="2.1" stroke-linecap="butt"/>
<text x="1267.5" y="1303.5" text-anchor="middle" style="font-size:45.2px;">0.2</text>
<line x1="1382.75" y1="1251.00" x2="1382.75" y2="1258.00" stroke="#111" stroke-width="2.1" stroke-linecap="butt"/>
<line x1="1498.00" y1="1251.00" x2="1498.00" y2="1263.00" stroke="#111" stroke-width="2.1" stroke-linecap="butt"/>
<text x="1498.0" y="1303.5" text-anchor="middle" style="font-size:45.2px;">0.3</text>
<line x1="1613.25" y1="1251.00" x2="1613.25" y2="1258.00" stroke="#111" stroke-width="2.1" stroke-linecap="butt"/>
<line x1="1728.50" y1="1251.00" x2="1728.50" y2="1263.00" stroke="#111" stroke-width="2.1" stroke-linecap="butt"/>
<text x="1728.5" y="1303.5" text-anchor="middle" style="font-size:45.2px;">0.4</text>
<line x1="1843.75" y1="1251.00" x2="1843.75" y2="1258.00" stroke="#111" stroke-width="2.1" stroke-linecap="butt"/>
<line x1="1959.00" y1="1251.00" x2="1959.00" y2="1263.00" stroke="#111" stroke-width="2.1" stroke-linecap="butt"/>
<text x="1959.0" y="1303.5" text-anchor="middle" style="font-size:45.2px;">0.5</text>
<rect x="1245.10" y="1089.40" width="11.6" height="11.2" fill="#111"/>
<rect x="1559.10" y="1057.50" width="11.6" height="11.2" fill="#111"/>
<rect x="1761.80" y="1007.70" width="11.6" height="11.2" fill="#111"/>
<rect x="1852.10" y="795.10" width="11.6" height="11.2" fill="#111"/>
<line x1="1253.00" y1="1131.50" x2="1858.00" y2="897.50" stroke="#111" stroke-width="3.4" stroke-linecap="round"/>
<text x="1412.0" y="691.3" text-anchor="start" style="font-size:35px;">r=0.7874</text>
<text x="1412.0" y="734.5" style="font-size:35px"><tspan style="font-style:italic">P</tspan>&lt;0.05</text>
<text x="1287.6" y="1378.6" style="font-size:45.65px"><tspan style="font-style:italic">TRE</tspan> relative expression level</text>
<text x="1063.3" y="1316.0" text-anchor="start" style="font-size:47.1px;" transform="rotate(-90 1063.3 1316.0)">Membrane-bound trehalase activity</text>
<text x="998.2" y="635.9" text-anchor="start" style="font-size:46px;">D</text>
</svg>
</body>
</html>
